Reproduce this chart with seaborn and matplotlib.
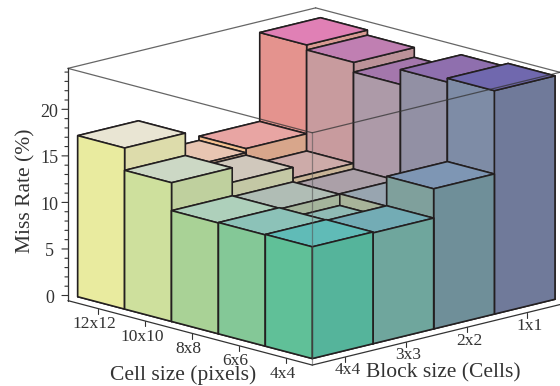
import numpy as np
import matplotlib
matplotlib.use("Agg")
import matplotlib.pyplot as plt
from matplotlib.transforms import ScaledTranslation
import seaborn as sns
from mpl_toolkits.mplot3d import proj3d

# ---- data ----
cell_sizes = ["12x12", "10x10", "8x8", "6x6", "4x4"]
block_sizes = ["4x4", "3x3", "2x2", "1x1"]
miss_block_4x4 = [17.3, 14.9, 11.9, 11.95, 12.0]
miss_block_3x3 = [13.6, 13.35, 11.8, 10.6, 11.9]
miss_block_2x2 = [14.05, 12.2, 11.6, 11.85, 15.05]
miss_block_1x1 = [23.6, 23.05, 22.0, 23.6, 24.0]
z_major = [0, 5, 10, 15, 20]
z_minor = [v for v in range(0, 25) if v % 5]

top_4x4 = ["#E9E5D3", "#CCD8C5", "#AED0BB", "#8CC2B8", "#60BBB7"]
top_3x3 = ["#E8C5B2", "#D0C8BC", "#B0BDB5", "#90BBB5", "#73ACB5"]
top_2x2 = ["#E8A5A3", "#CDABA9", "#ABA0A8", "#98A5B0", "#7E96B4"]
top_1x1 = ["#E080B5", "#C07FB2", "#A477AC", "#8F6FAE", "#7068AE"]
left_4x4 = ["#E9EB9F", "#CEE09D", "#A9D296", "#84C897", "#60C098"]
left_3x3 = ["#F0D098", "#D8D09A", "#B5C69A", "#92BC9A", "#72B09A"]
left_2x2 = ["#F4C090", "#D5BC98", "#B8B49A", "#A8B39A", "#7FA09C"]
left_1x1 = ["#E4938E", "#C89B9E", "#AD9AA8", "#9290A4", "#7E8CA6"]
right_4x4 = ["#DDDCAB", "#BFD09E", "#A0C498", "#7AB89A", "#55B49B"]
right_3x3 = ["#E0B898", "#C4C8A5", "#A5B59C", "#88AC9C", "#6FA69D"]
right_2x2 = ["#D8A68B", "#C8B497", "#AFA89A", "#8E9A9C", "#6F8F99"]
right_1x1 = ["#D89A92", "#BC9298", "#A08C9C", "#85849C", "#707A9A"]

# ---- style ----
sns.set_theme(style="white", rc={"axes.facecolor": "white", "figure.facecolor": "white"})
plt.rcParams["font.family"] = ["Liberation Serif", "DejaVu Sans"]
INK = "#231f20"
TXT = "#333333"

fig = plt.figure(figsize=(5.6, 3.86), dpi=100)
ax = fig.add_axes([0, -0.2254, 1, 1.4508], projection="3d", proj_type="ortho", computed_zorder=False)
ax.view_init(elev=14.7, azim=-43.9)
ax.patch.set_visible(False)

x0, x1 = -0.15, 5.058
y0, y1 = -0.045, 4.037
z0, z1 = -0.55, 24.4
aspect = np.array([(x1 - x0) * 67.8, (y1 - y0) * 84.4, (z1 - z0) * 9.645])

# ---- bars ----
rows = [miss_block_4x4, miss_block_3x3, miss_block_2x2, miss_block_1x1]
tops = [top_4x4, top_3x3, top_2x2, top_1x1]
lefts = [left_4x4, left_3x3, left_2x2, left_1x1]
rights = [right_4x4, right_3x3, right_2x2, right_1x1]
for j, row in enumerate(rows):
    for i, h in enumerate(row):
        # face order of bar3d: bottom, top, -y, +y, -x, +x
        cols = [lefts[j][i], tops[j][i], lefts[j][i], lefts[j][i], rights[j][i], rights[j][i]]
        ax.bar3d(i, j, 0, 1, 1, h, color=cols, shade=False, edgecolor=INK,
                 linewidth=1.15, zorder=10 + i - j)

# ---- frame ----
frame_kw = dict(color="#333333", lw=0.9, alpha=0.75, zorder=50, solid_capstyle="round")
ax.plot([x0, x1], [y0, y0], [z1, z1], **frame_kw)
ax.plot([x1, x1], [y0, y1], [z1, z1], **frame_kw)
ax.plot([x0, x0], [y0, y1], [z1, z1], **frame_kw)
ax.plot([x0, x1], [y1, y1], [z1, z1], **frame_kw)
ax.plot([x1, x1], [y0, y0], [z0, z1], color="#555555", lw=0.9, alpha=0.6, zorder=50)

ax.set_xticks([i + 0.5 for i in range(len(cell_sizes))])
ax.set_xticklabels(cell_sizes)
ax.set_yticks([j + 0.5 for j in range(len(block_sizes))])
ax.set_yticklabels(block_sizes)
ax.set_zticks(z_major)
ax.zaxis._axinfo["juggled"] = (1, 2, 0)
for a in (ax.xaxis, ax.yaxis, ax.zaxis):
    a.set_pane_color((1, 1, 1, 0))
    a.pane.set_edgecolor((1, 1, 1, 0))
    a.line.set_color("#333333")
    a.line.set_linewidth(0.9)
    a._axinfo["grid"]["linewidth"] = 0
    a._axinfo["tick"]["inward_factor"] = 0
    a._axinfo["tick"]["outward_factor"] = 0
ax.grid(False)
ax.tick_params(axis="x", labelsize=12.5, pad=1, colors=TXT)
ax.tick_params(axis="y", labelsize=12.5, pad=1, colors=TXT)
ax.tick_params(axis="z", labelsize=13, pad=3, colors=TXT)
for t in ax.xaxis.get_ticklabels() + ax.yaxis.get_ticklabels() + ax.zaxis.get_ticklabels():
    t.set_va("center")
ax.xaxis.set_rotate_label(False)
ax.yaxis.set_rotate_label(False)
ax.zaxis.set_rotate_label(False)
ax.set_xlabel("Cell size (pixels)", fontsize=15.5, rotation=0, labelpad=10.5, color=TXT)
ax.set_ylabel("Block size (Cells)", fontsize=15.5, rotation=0, labelpad=10.5, color=TXT)
ax.set_zlabel("Miss Rate (%)", fontsize=15.5, rotation=90, labelpad=4, color=TXT)


def nudge(text, dx, dy):
    """Shift a text that mplot3d places itself, by screen pixels (dy up)."""
    base_draw = text.draw
    offset = ScaledTranslation(dx / 100, dy / 100, fig.dpi_scale_trans)

    def draw(renderer):
        text._transform = ax.transData + offset
        return base_draw(renderer)

    text.draw = draw


nudge(ax.xaxis.label, 30, 2)
nudge(ax.yaxis.label, -29, 6)
nudge(ax.zaxis.label, 17, -7)
for tick in ax.xaxis.get_major_ticks():
    nudge(tick.label1, 7, -3)
for tick in ax.yaxis.get_major_ticks():
    nudge(tick.label1, -8, -0.5)
for tick in ax.zaxis.get_major_ticks():
    nudge(tick.label1, 7.5, -3)

# ---- hand ticks: horizontal on z, vertical on x and y ----
tick_kw = dict(color="#333333", lw=0.8, zorder=5)
for v in z_major:
    ax.plot([x0, x0 - 0.0615], [y0, y0 - 0.0512], [v, v], clip_on=False, **tick_kw)
for v in z_minor:
    ax.plot([x0, x0 - 0.031], [y0, y0 - 0.026], [v, v], clip_on=False, **tick_kw)
for i in range(len(cell_sizes)):
    ax.plot([i + 0.5] * 2, [y0, y0], [z0, z0 - 0.55], clip_on=False, **tick_kw)
for j in range(len(block_sizes)):
    ax.plot([x1, x1], [j + 0.5] * 2, [z0, z0 - 0.55], clip_on=False, **tick_kw)
ax.set_xlim(x0, x1)
ax.set_ylim(y0, y1)
ax.set_zlim(z0, z1)

# ---- fit the box to the pixel frame ----
def to_px(x, y, z):
    X, Y, _ = proj3d.proj_transform(x, y, z, ax.get_proj())
    p = ax.transData.transform((X, Y))
    return np.array([p[0], 386 - p[1]])

ax.set_box_aspect(aspect, zoom=1.0)
ax.apply_aspect()
span = to_px(5, 4, 0)[0] - to_px(0, 0, 0)[0]
zoom = (555.0 - 77.7) / span
ax.set_box_aspect(aspect, zoom=zoom)
ax.apply_aspect()
now = to_px(0, 0, 0)
dx, dy = 77.7 - now[0], 296.7 - now[1]
pos = ax.get_position()
ax.set_position([pos.x0 + dx / 560, pos.y0 - dy / 386, pos.width, pos.height])

fig.savefig("out.png", dpi=100, facecolor="white")
